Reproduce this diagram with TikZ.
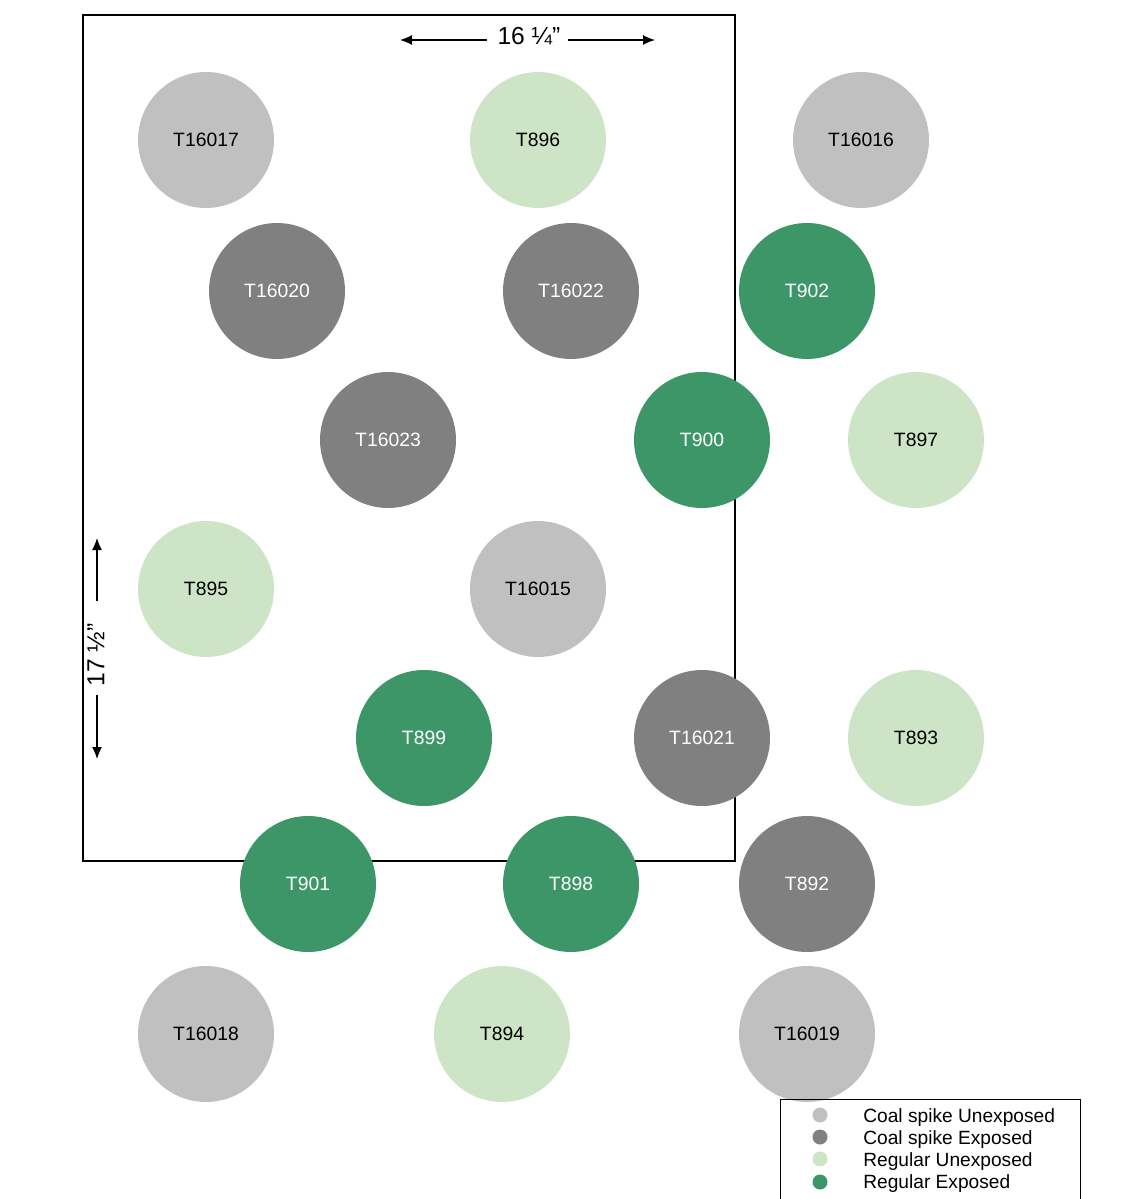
\documentclass[tikz,border=0pt]{standalone}
\usepackage{fontspec}
\setmainfont{Liberation Sans}
\usetikzlibrary{arrows,arrows.meta,positioning}

\definecolor{coalunexp}{HTML}{C0C0C0}
\definecolor{coalexp}{HTML}{808080}
\definecolor{regunexp}{HTML}{CDE5C6}
\definecolor{regexp}{HTML}{3D9668}

\tikzset{
  tube/.style={circle,minimum size=2.72cm,inner sep=0pt,font=\fontsize{11}{13}\selectfont},
  cu/.style={tube,fill=coalunexp},
  ce/.style={tube,fill=coalexp,text=white},
  ru/.style={tube,fill=regunexp},
  re/.style={tube,fill=regexp,text=white},
  dot/.style={circle,minimum size=0.3cm,inner sep=0pt},
  dim/.style={->,>={Latex[length=2.4mm,width=2mm]},line width=0.7pt},
  key/.style={anchor=west,inner sep=0pt,font=\fontsize{10.9}{13}\selectfont}
}

\begin{document}
\begin{tikzpicture}[x=0.02cm,y=-0.02cm]
		\useasboundingbox (0,0) rectangle (1145,1199);
		% frame
		\draw[thick] (83,15) rectangle (735,861);
		% tubes
		\node[cu] (t16017) at (206,140) {T16017};
		\node[ru] (t896) at (538,140) {T896};
		\node[cu] (t16016) at (861,140) {T16016};
		\node[ce] (t16020) at (277,291) {T16020};
		\node[ce] (t16022) at (571,291) {T16022};
		\node[re] (t902) at (807,291) {T902};
		\node[ce] (t16023) at (388,440) {T16023};
		\node[re] (t900) at (702,440) {T900};
		\node[ru] (t897) at (916,440) {T897};
		\node[ru] (t895) at (206,589) {T895};
		\node[cu] (t16015) at (538,589) {T16015};
		\node[re] (t899) at (424,738) {T899};
		\node[ce] (t16021) at (702,738) {T16021};
		\node[ru] (t893) at (916,738) {T893};
		\node[re] (t901) at (308,884) {T901};
		\node[re] (t898) at (571,884) {T898};
		\node[ce] (t892) at (807,884) {T892};
		\node[cu] (t16018) at (206,1034) {T16018};
		\node[ru] (t894) at (502,1034) {T894};
		\node[cu] (t16019) at (807,1034) {T16019};
		% dimensions
		\node[font=\fontsize{14}{16}\selectfont] (w) at (529,36) {16 ¼”};
		\coordinate (wl) at (400,40);
		\coordinate (wr) at (655,40);
		\draw[dim] (487,40) -- (wl);
		\draw[dim] (568,40) -- (wr);
		\node[rotate=90,font=\fontsize{14}{16}\selectfont] (h) at (96,655) {17 ½”};
		\coordinate (ht) at (97,538);
		\coordinate (hb) at (97,759);
		\draw[dim] (97,601) -- (ht);
		\draw[dim] (97,695) -- (hb);
		% legend
		\draw (780,1099) rectangle (1080,1215);
		\node[dot,fill=coalunexp] (l1) at (820,1115) {};
		\node[dot,fill=coalexp] (l2) at (820,1137) {};
		\node[dot,fill=regunexp] (l3) at (820,1159) {};
		\node[dot,fill=regexp] (l4) at (820,1182) {};
		\node[key] at (863,1118) {Coal spike Unexposed};
		\node[key] at (863,1140) {Coal spike Exposed};
		\node[key] at (863,1162) {Regular Unexposed};
		\node[key] at (863,1184) {Regular Exposed};
	\end{tikzpicture}
\end{document}
